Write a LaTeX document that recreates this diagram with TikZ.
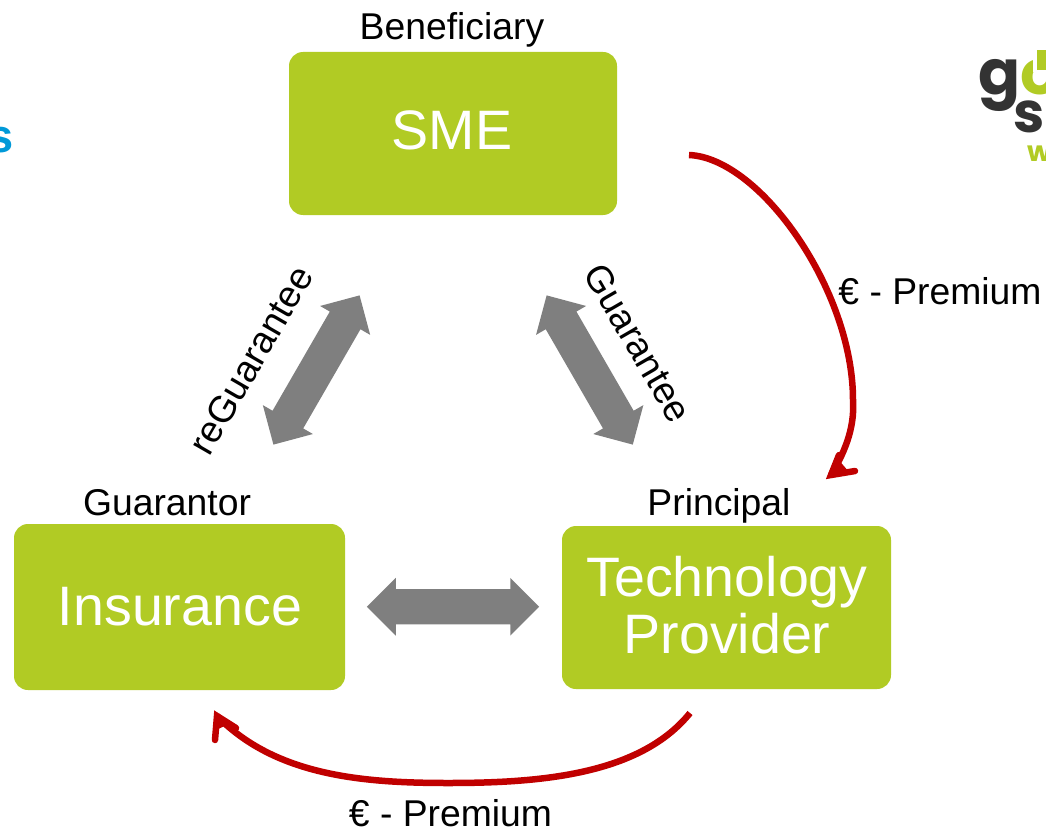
\documentclass[tikz,border=0pt]{standalone}
\usepackage{fontspec}
\setmainfont{Liberation Sans}
\newfontfamily\logofont{Poppins}
\usetikzlibrary{shapes.arrows}
\definecolor{boxgreen}{HTML}{B1CB24}
\definecolor{arrowgray}{HTML}{7F7F7F}
\definecolor{premiumred}{HTML}{C00000}
\definecolor{logodark}{HTML}{333333}
\definecolor{logoblue}{HTML}{0099D8}
\newcommand{\fs}[1]{\fontsize{#1}{#1}\selectfont}
\tikzset{
  box/.style={fill=boxgreen,rounded corners=14pt,inner sep=0pt,text=white},
  bigtext/.style={text=white,font=\fs{55.6},anchor=base,inner sep=0pt},
  lab/.style={text=black,font=\fs{37.3},anchor=base,inner sep=0pt},
  rotlab/.style={text=black,font=\fs{37.3},inner sep=0pt},
  blockarrow/.style={draw=none,fill=arrowgray,shape=double arrow,double arrow head extend=11.2pt,
     double arrow tip angle=90,minimum width=57.4pt,minimum height=172.3pt,inner xsep=0pt,inner ysep=17.5pt},
  premium/.style={draw=premiumred,line width=6.5pt},
  premiumtip/.style={draw=premiumred,line width=6.5pt,line join=miter,line cap=round,miter limit=10},
  logotxt/.style={font=\logofont\bfseries\fs{62},anchor=base west,inner sep=0pt}
}
\begin{document}
\begin{tikzpicture}[x=1pt,y=-1pt]
\useasboundingbox (0,0) rectangle (1046,829);
\clip (0,0) rectangle (1046,829);
% boxes
\node[box,minimum width=328pt,minimum height=163pt] (sme) at (453,133.5) {};
\node[box,minimum width=331pt,minimum height=166pt] (ins) at (179.5,607) {};
\node[box,minimum width=329pt,minimum height=163pt] (tp) at (726.5,607.5) {};
% box texts
\node[bigtext] (smet) at (452,150) {SME};
\node[bigtext] (inst) at (180,625) {Insurance};
\node[bigtext] (tpa) at (727,596) {Technology};
\node[bigtext] (tpb) at (727,653) {Provider};
% role labels
\node[lab] (ben) at (452,40) {Beneficiary};
\node[lab] (gua) at (167,515) {Guarantor};
\node[lab] (pri) at (719,515) {Principal};
% block arrows
\node[blockarrow,rotate=60] (al) at (316.5,370) {};
\node[blockarrow,rotate=-60] (ar) at (589.7,370) {};
\node[blockarrow] (ah) at (453,606.7) {};
\node[rotlab,rotate=60] (rg) at (251,360) {reGuarantee};
\node[rotlab,rotate=-60] (gt) at (638,343) {Guarantee};
% premium arrows
\coordinate (p1s) at (689,155);
\coordinate (p1m) at (853,400);
\coordinate (p1e) at (831,475);
\coordinate (p1a) at (839,455);
\coordinate (p1b) at (855,471);
\draw[premium] (p1s) .. controls (760,158) and (853,290) .. (p1m) .. controls (855,430) and (843,455) .. (p1e);
\draw[premiumtip] (p1a) -- (p1e) -- (p1b);
\fill[premiumred] (p1e) -- (837,458) -- (849,472) -- cycle;
\coordinate (p2s) at (690,713);
\coordinate (p2m) at (448,783);
\coordinate (p2e) at (217,716);
\coordinate (p2a) at (215,740);
\coordinate (p2b) at (236,728);
\draw[premium] (p2s) .. controls (640,775) and (540,783) .. (p2m) .. controls (360,783) and (275,775) .. (p2e);
\draw[premiumtip] (p2a) -- (p2e) -- (p2b);
\fill[premiumred] (p2e) -- (216,730) -- (229,724) -- cycle;
\node[lab] (pr1) at (940,304) {€ - Premium};
\node[lab] (pr2) at (450.5,826) {€ - Premium};
% clipped fragments at the edges
\node[font=\bfseries\fs{47},text=logoblue,anchor=base east,inner sep=0pt] (bl) at (14,153) {s};
\node[logotxt,text=logodark] (lg) at (978,95) {g};
\node[logotxt,text=boxgreen] (lo) at (1020,95) {o};
\node[font=\logofont\bfseries\fs{56},text=logodark,anchor=base west,inner sep=0pt] (ls) at (1013,133) {s};
\node[font=\logofont\bfseries\fs{28},text=boxgreen,anchor=base west,inner sep=0pt] (lw) at (1027,162) {w};
\fill[white] (1033,48) rectangle (1046,72);
\fill[boxgreen] (1037,50) rectangle (1046,70);
\end{tikzpicture}
\end{document}
